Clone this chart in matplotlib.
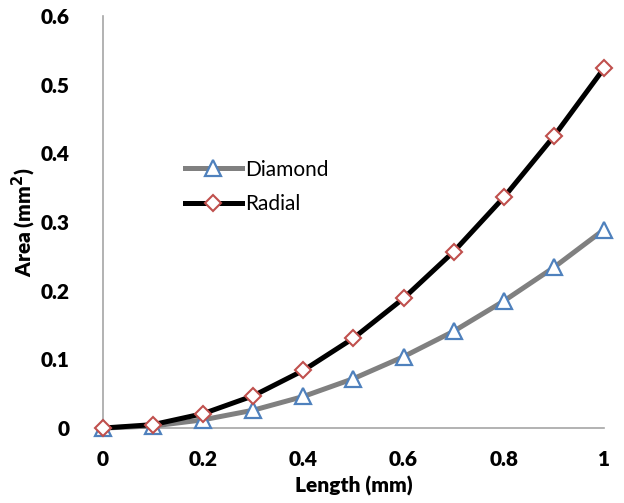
import matplotlib
matplotlib.use("Agg")
import matplotlib.pyplot as plt
import numpy as np

length = [0, 0.1, 0.2, 0.3, 0.4, 0.5, 0.6, 0.7, 0.8, 0.9, 1.0]
diamond = [0, 0.003, 0.012, 0.026, 0.046, 0.072, 0.104, 0.141, 0.185, 0.234, 0.289]
radial = [0, 0.005, 0.021, 0.047, 0.084, 0.131, 0.189, 0.257, 0.336, 0.425, 0.524]
xticks = [0, 0.2, 0.4, 0.6, 0.8, 1]
xticklabels = ["0", "0.2", "0.4", "0.6", "0.8", "1"]
yticks = [0, 0.1, 0.2, 0.3, 0.4, 0.5, 0.6]
yticklabels = ["0", "0.1", "0.2", "0.3", "0.4", "0.5", "0.6"]

plt.rcParams['font.family'] = ['Lato', 'DejaVu Sans']

fig = plt.figure(figsize=(6.24, 5.03), dpi=100)
ax = fig.add_axes([0.165, 0.149, 0.803, 0.819])

ax.plot(length, diamond, color='#808080', lw=3.6, marker='^', ms=11,
        mfc='white', mec='#4F81BD', mew=1.6, label='Diamond', zorder=3, clip_on=False)
ax.plot(length, radial, color='black', lw=3.6, marker='D', ms=8,
        mfc='white', mec='#C0504D', mew=1.5, label='Radial', zorder=4, clip_on=False)

ax.set_xlim(0, 1)
ax.set_ylim(0, 0.6)
ax.set_xticks(xticks)
ax.set_xticklabels(xticklabels, fontsize=15, fontweight='heavy')
ax.set_yticks(yticks)
ax.set_yticklabels(yticklabels, fontsize=15, fontweight='heavy')
ax.tick_params(length=0, pad=16)
ax.tick_params(axis='y', pad=24)
for s in ['top', 'right']:
    ax.spines[s].set_visible(False)
for s in ['left', 'bottom']:
    ax.spines[s].set_color('#A6A6A6')
    ax.spines[s].set_linewidth(1.2)

ax.set_xlabel('Length (mm)', fontsize=15, fontweight='heavy')
ax.set_ylabel('Area (mm$^\\mathbf{2}$)', fontsize=15, fontweight='heavy')
ax.xaxis.set_label_coords(0.5, -0.117)
ax.yaxis.set_label_coords(-0.13, 0.5)

leg = ax.legend(loc='upper left', bbox_to_anchor=(0.127, 0.697), frameon=False,
                fontsize=15, handlelength=2.7, handletextpad=0.15, labelspacing=0.68)

fig.savefig('out.png', dpi=100)
